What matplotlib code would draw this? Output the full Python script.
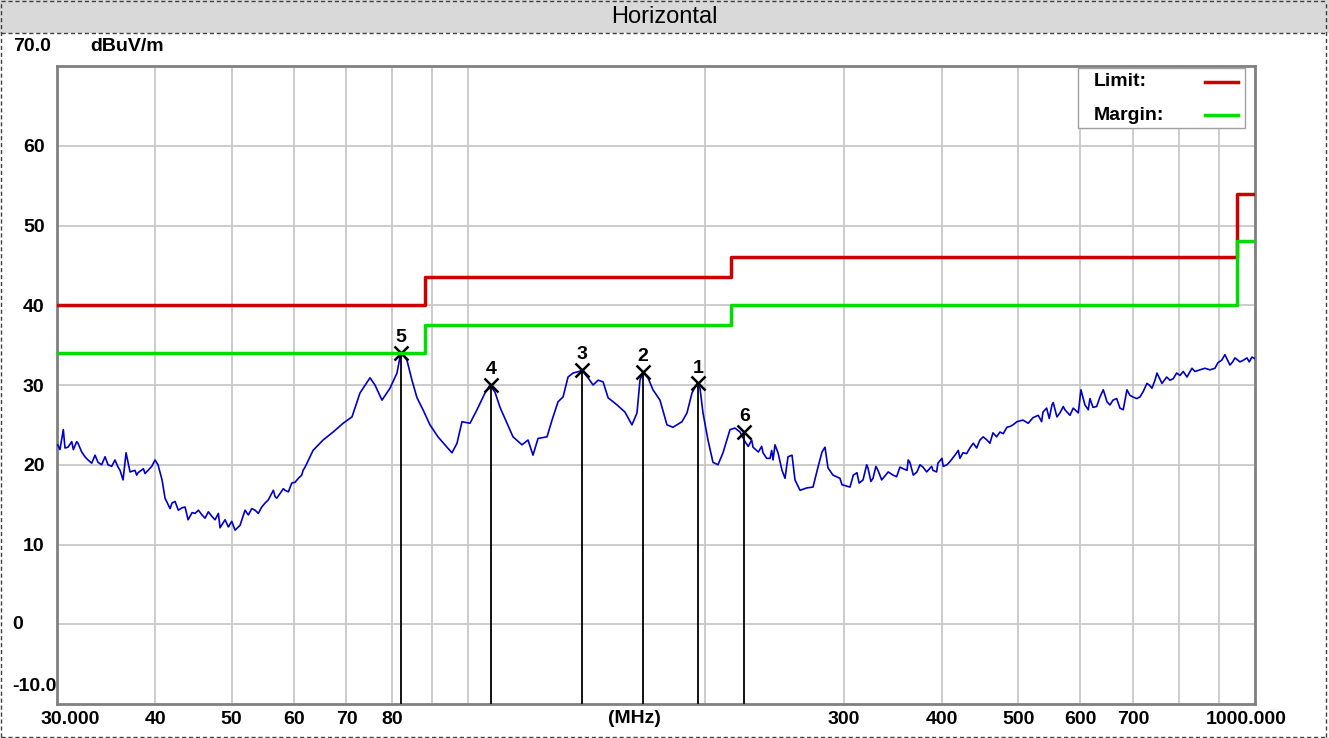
import numpy as np
import matplotlib
matplotlib.use("Agg")
import matplotlib.pyplot as plt
import matplotlib.transforms as mtransforms
from matplotlib.patches import Rectangle
from matplotlib.lines import Line2D
from matplotlib.ticker import NullLocator

freq_mhz = [
    30.06, 30.26, 30.56, 30.71, 30.98, 31.32, 31.47, 31.78, 31.90, 32.25,
    32.56, 32.85, 33.21, 33.53, 33.83, 34.19, 34.53, 34.83, 35.21, 35.55,
    35.87, 36.08, 36.40, 36.72, 37.15, 37.69, 37.88, 38.03, 38.63, 38.82,
    39.16, 39.59, 39.97, 40.32, 40.80, 41.16, 41.77, 42.01, 42.38, 42.79,
    43.26, 43.64, 44.03, 44.55, 44.94, 45.38, 45.87, 46.27, 46.72, 47.23,
    47.65, 48.11, 48.35, 49.06, 49.54, 50.03, 50.52, 51.26, 52.02, 52.52,
    53.05, 53.57, 54.08, 54.62, 55.16, 55.69, 56.51, 56.80, 57.08, 58.19,
    58.48, 59.05, 59.64, 60.22, 60.80, 61.41, 61.65, 62.01, 63.48, 65.37,
    67.31, 69.31, 71.14, 72.82, 74.99, 76.09, 77.67, 79.51, 81.15, 81.87,
    82.59, 83.56, 84.79, 86.05, 87.57, 89.38, 91.50, 93.94, 95.33, 96.74,
    98.16, 100.49, 102.57, 105.00, 106.55, 108.12, 109.72, 111.99, 113.97, 117.01,
    119.09, 120.84, 122.63, 125.90, 127.76, 130.03, 131.95, 133.89, 135.87, 139.50,
    141.97, 144.07, 146.19, 148.35, 150.54, 154.55, 158.17, 161.44, 163.83, 165.27,
    166.73, 169.19, 171.68, 175.24, 178.86, 182.03, 186.89, 189.65, 192.44, 195.28,
    197.01, 198.74, 201.67, 204.64, 207.66, 210.73, 215.09, 218.26, 221.48, 224.75,
    226.9, 229.2, 230.08, 233.7, 236.0, 236.91, 239.5, 241.82, 243.0, 243.95,
    245.38, 247.55, 250.46, 252.67, 254.90, 257.90, 260.17, 264.01, 269.48, 274.25,
    278.29, 281.57, 284.05, 286.55, 290.78, 296.77, 298.5, 305.6, 308.6, 311.9,
    313.9, 317.5, 320.9, 322.1, 324.9, 326.9, 329.7, 331.7, 335.3, 336.6,
    341.8, 346.6, 350.3, 353.7, 357.2, 361.1, 362.4, 364.2, 367.8, 371.8,
    375.1, 378.4, 382.5, 388.1, 389.6, 393.8, 395.3, 400.0, 401.5, 405.9,
    409.5, 415.5, 419.6, 421.6, 425.3, 430.0, 434.1, 438.4, 442.8, 447.0,
    451.4, 456.3, 460.3, 464.4, 469.4, 474.0, 478.6, 483.8, 488.1, 492.4,
    498.2, 507.0, 514.9, 522.1, 530.2, 535.5, 537.6, 543.4, 547.6, 551.9,
    554.0, 560.0, 565.0, 570.5, 573.3, 581.8, 587.4, 590.4, 596.1, 600.8,
    607.9, 613.8, 616.9, 622.3, 629.1, 635.2, 641.4, 648.4, 654.1, 659.9,
    667.0, 673.5, 680.0, 687.4, 693.5, 699.6, 707.2, 714.1, 721.1, 728.9,
    733.9, 739.6, 746.2, 750.6, 761.6, 772.2, 779.7, 787.2, 795.1, 802.8,
    810.6, 819.5, 831.5, 838.8, 851.2, 863.7, 876.5, 889.4, 897.2, 907.0,
    915.8, 929.3, 936.7, 943.0, 956.9, 966.2, 976.7, 983.3, 991.1, 1000.0,
]
level_db = [
    22.5, 21.9, 24.4, 22.1, 22.2, 22.9, 21.9, 22.9, 22.7, 21.6,
    21.0, 20.6, 20.2, 21.2, 20.3, 20.0, 21.0, 20.0, 19.8, 20.6,
    19.7, 19.3, 18.1, 21.5, 19.1, 19.3, 18.7, 19.0, 19.5, 18.9,
    19.3, 19.8, 20.6, 20.0, 18.1, 15.8, 14.5, 15.2, 15.4, 14.3,
    14.6, 14.7, 13.1, 14.0, 13.9, 14.3, 13.7, 13.3, 14.1, 13.5,
    13.1, 13.9, 12.1, 13.1, 12.2, 12.9, 11.8, 12.4, 14.3, 13.7,
    14.5, 14.3, 13.9, 14.7, 15.2, 15.6, 16.8, 16.0, 15.8, 17.0,
    16.8, 16.6, 17.7, 17.8, 18.3, 18.7, 19.3, 19.7, 21.8, 23.1,
    24.1, 25.2, 26.0, 29.0, 30.9, 30.0, 28.1, 29.6, 31.5, 33.5,
    33.8, 33.1, 30.6, 28.4, 26.9, 25.0, 23.5, 22.2, 21.5, 22.7,
    25.4, 25.2, 26.9, 29.0, 30.0, 29.1, 27.2, 25.2, 23.5, 22.5,
    23.1, 21.2, 23.3, 23.5, 25.6, 27.9, 28.5, 31.0, 31.5, 31.8,
    30.9, 30.0, 30.6, 30.4, 28.4, 27.5, 26.6, 25.0, 26.5, 30.6,
    31.6, 30.9, 29.4, 28.1, 25.0, 24.7, 25.4, 26.5, 29.0, 30.2,
    29.6, 26.5, 23.1, 20.3, 20.0, 21.5, 24.4, 24.6, 24.1, 22.9,
    22.3, 23.1, 22.2, 21.6, 22.3, 21.5, 20.8, 20.8, 21.8, 20.6,
    22.5, 21.5, 19.3, 18.3, 21.0, 21.2, 18.1, 16.8, 17.1, 17.2,
    19.7, 21.6, 22.2, 19.6, 18.7, 18.3, 17.5, 17.2, 18.7, 19.0,
    17.7, 18.1, 20.0, 19.6, 17.9, 18.3, 19.8, 19.3, 18.1, 18.3,
    19.1, 18.7, 18.5, 19.7, 19.5, 19.3, 20.6, 20.3, 18.7, 19.1,
    20.0, 19.7, 19.1, 19.8, 19.3, 19.1, 20.2, 20.8, 19.8, 20.0,
    20.4, 21.2, 21.8, 20.8, 21.5, 21.4, 22.1, 22.7, 22.1, 23.1,
    23.5, 23.1, 22.7, 24.0, 23.5, 24.1, 23.9, 24.7, 24.8, 25.0,
    25.4, 25.6, 25.2, 25.9, 26.2, 25.4, 26.6, 27.1, 25.8, 27.5,
    27.8, 26.0, 26.5, 27.3, 26.9, 26.2, 27.1, 26.9, 26.5, 29.4,
    27.5, 26.9, 28.3, 27.2, 27.3, 28.5, 29.4, 27.9, 27.5, 28.1,
    28.3, 27.1, 26.9, 29.4, 28.7, 28.5, 28.3, 28.5, 29.2, 30.2,
    30.0, 29.6, 30.6, 31.5, 30.2, 31.0, 30.6, 30.8, 31.5, 31.2,
    31.7, 31.0, 32.1, 31.7, 31.9, 32.1, 31.9, 32.1, 32.8, 33.1,
    33.8, 32.5, 32.9, 33.4, 32.9, 33.1, 33.4, 32.9, 33.5, 33.3,
]

# limit / margin lines (step edges in MHz)
limit_edges = [30, 88, 216, 950, 1000]
limit_levels = [40.0, 43.5, 46.0, 54.0]
margin_levels = [34.0, 37.5, 40.0, 48.0]

# peak markers
marker_ids = ["1", "2", "3", "4", "5", "6"]
marker_freq = [195.9, 166.7, 139.5, 106.9, 82.1, 224.4]
marker_level = [30.2, 31.6, 31.9, 30.0, 34.0, 24.1]

xtick_vals = [30, 40, 50, 60, 70, 80, 90, 100, 200, 300, 400, 500, 600, 700, 800, 900, 1000]
xtick_text = ["30.000", "40", "50", "60", "70", "80", "", "", "", "300", "400", "500",
              "600", "700", "", "", "1000.000"]
ytick_vals = [0, 10, 20, 30, 40, 50, 60]
ytick_text = ["", "10", "20", "30", "40", "50", "60"]

BOLD = dict(family="Liberation Sans", weight="bold", size=14)

fig = plt.figure(figsize=(13.29, 7.38), dpi=100)

# title bar and dashed frame
fig.patches.append(Rectangle((0, 1 - 33 / 738), 1, 33 / 738, transform=fig.transFigure,
                             facecolor="#d9d9d9", edgecolor="none"))
dash = dict(color="#404040", lw=1, ls=(0, (3, 2)), transform=fig.transFigure)
for xs, ys in [([0.001, 0.998], [0.999, 0.999]), ([0.001, 0.998], [0.001, 0.001]),
               ([0.001, 0.001], [0.001, 0.999]), ([0.9977, 0.9977], [0.001, 0.999]),
               ([0.001, 0.998], [1 - 33 / 738, 1 - 33 / 738])]:
    fig.lines.append(Line2D(xs, ys, **dash))
fig.text(0.5, 1 - 17 / 738, "Horizontal", ha="center", va="center",
         family="Liberation Sans", size=17)

ax = fig.add_axes([57 / 1329, 34 / 738, 1198 / 1329, 638 / 738])
ax.set_xscale("log")
ax.set_xlim(30, 1000)
ax.set_ylim(-10, 70)

ax.set_xticks(xtick_vals)
ax.set_xticklabels(xtick_text, fontdict=BOLD)
ax.xaxis.set_minor_locator(NullLocator())
ax.set_yticks(ytick_vals)
ax.set_yticklabels(ytick_text, fontdict=BOLD)
ax.tick_params(axis="both", length=0)
ax.tick_params(axis="x", pad=5)
ax.tick_params(axis="y", pad=9)
ax.grid(True, color="#c8c8c8", lw=1.3)
ax.set_axisbelow(True)
for s in ax.spines.values():
    s.set_color("#808080")
    s.set_linewidth(2)

# nudge the end labels inward like the original
labels = ax.get_xticklabels()
labels[0].set_transform(labels[0].get_transform()
                        + mtransforms.ScaledTranslation(0.13, 0, fig.dpi_scale_trans))
labels[-1].set_transform(labels[-1].get_transform()
                         + mtransforms.ScaledTranslation(-0.09, 0, fig.dpi_scale_trans))

# trace
ax.plot(freq_mhz, level_db, color="#0000c8", lw=1.2, zorder=4)

# markers
ax.vlines(marker_freq, -10, marker_level, color="black", lw=1.3, zorder=5)
ax.plot(marker_freq, marker_level, "x", color="black", ms=10, mew=1.8, zorder=5.5)
for mid, f, v in zip(marker_ids, marker_freq, marker_level):
    ax.annotate(mid, (f, v), xytext=(0, 11), textcoords="offset points",
                ha="center", va="center", zorder=6, **BOLD)

# limit and margin steps
ax.step(limit_edges, limit_levels + [limit_levels[-1]], where="post",
        color="#cc0000", lw=2.5, zorder=5.8)
ax.step(limit_edges, margin_levels + [margin_levels[-1]], where="post",
        color="#00dd00", lw=2.5, zorder=5.8)

# extra axis texts
ax.text(-0.0367, 1.0298, "70.0", transform=ax.transAxes, ha="left", va="center", **BOLD)
ax.text(0.0275, 1.0298, "dBuV/m", transform=ax.transAxes, ha="left", va="center", **BOLD)
ax.text(-0.0376, 0, "0", transform=ax.get_yaxis_transform(), ha="left", va="center", **BOLD)
ax.text(-0.0376, 0.0282, "-10.0", transform=ax.transAxes, ha="left", va="center", **BOLD)
ax.text(0.4816, -0.0095, "(MHz)", transform=ax.transAxes, ha="center", va="top", **BOLD)

# legend box
ax.add_patch(Rectangle((0.8523, 0.9028), 0.1394, 0.0941, transform=ax.transAxes,
                       facecolor="white", edgecolor="#a0a0a0", lw=1, zorder=7))
ax.text(0.8656, 0.975, "Limit:", transform=ax.transAxes, ha="left", va="center", zorder=8, **BOLD)
ax.text(0.8656, 0.923, "Margin:", transform=ax.transAxes, ha="left", va="center", zorder=8, **BOLD)
ax.add_line(Line2D([0.9583, 0.9858], [0.975, 0.975], transform=ax.transAxes,
                   color="#cc0000", lw=2.5, zorder=8))
ax.add_line(Line2D([0.9583, 0.9858], [0.923, 0.923], transform=ax.transAxes,
                   color="#00dd00", lw=2.5, zorder=8))

fig.savefig("out.png", dpi=100)
